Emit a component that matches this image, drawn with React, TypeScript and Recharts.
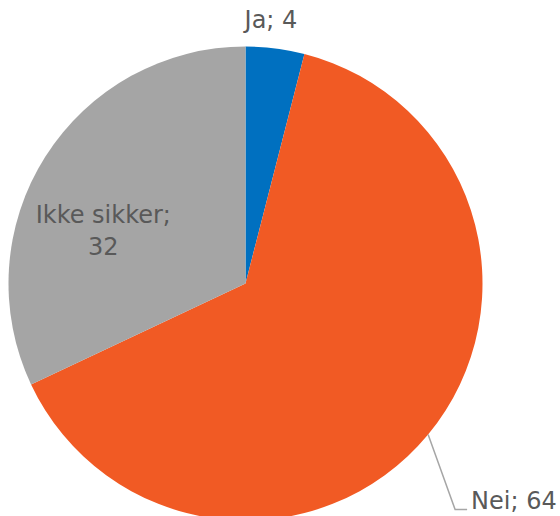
import { Cell, Pie, PieChart } from "recharts";

const categories = ["Ja", "Nei", "Ikke sikker"];
const values = [4, 64, 32];
const sliceColors = ["#0070C0", "#F15A24", "#A5A5A5"];

const chartData = categories.map((name, i) => ({ name, value: values[i] }));

const RAD = Math.PI / 180;
const textColor = "#595959";
const fontFamily = "'DejaVu Sans', sans-serif";

function renderLabel(props: any) {
  const { cx, cy, midAngle, outerRadius, index, name, value } = props;
  const cos = Math.cos(-midAngle * RAD);
  const sin = Math.sin(-midAngle * RAD);

  if (index === 0) {
    // above the pie
    const x = cx + (outerRadius + 30) * cos - 8;
    const y = cy - outerRadius - 27;
    return (
      <text x={x} y={y} fill={textColor} fontSize={24} fontFamily={fontFamily} textAnchor="middle" dominantBaseline="central">
        {`${name}; ${value}`}
      </text>
    );
  }

  if (index === 2) {
    // inside the slice, two lines
    const x = cx - outerRadius * 0.6;
    const y = cy - outerRadius * 0.2;
    return (
      <text x={x} y={y} fill={textColor} fontSize={24} fontFamily={fontFamily} textAnchor="middle">
        <tspan x={x} dy={-13}>{`${name};`}</tspan>
        <tspan x={x} dy={32}>{value}</tspan>
      </text>
    );
  }

  // outside with leader line
  const sx = cx + outerRadius * cos;
  const sy = cy + outerRadius * sin;
  const mx = sx + 27;
  const my = sy + 75;
  const ex = mx + 12;
  return (
    <g>
      <polyline points={`${sx},${sy} ${mx},${my} ${ex},${my}`} fill="none" stroke="#A6A6A6" strokeWidth={1.5} />
      <text x={ex + 4} y={my - 9} fill={textColor} fontSize={24} fontFamily={fontFamily} textAnchor="start" dominantBaseline="central">
        {`${name}; ${value}`}
      </text>
    </g>
  );
}

export default function App() {
  return (
    <div style={{ position: "absolute", left: 0, top: 0, width: 560, height: 516, background: "#ffffff" }}>
      <PieChart width={560} height={516} margin={{ top: 0, right: 0, bottom: 0, left: 0 }}>
        <Pie
          data={chartData}
          dataKey="value"
          nameKey="name"
          cx={245.5}
          cy={283.5}
          outerRadius={237}
          innerRadius={0}
          startAngle={90}
          endAngle={-270}
          stroke="none"
          label={renderLabel}
          labelLine={false}
          isAnimationActive={false}
        >
          {chartData.map((entry, i) => (
            <Cell key={entry.name} fill={sliceColors[i]} />
          ))}
        </Pie>
      </PieChart>
    </div>
  );
}
